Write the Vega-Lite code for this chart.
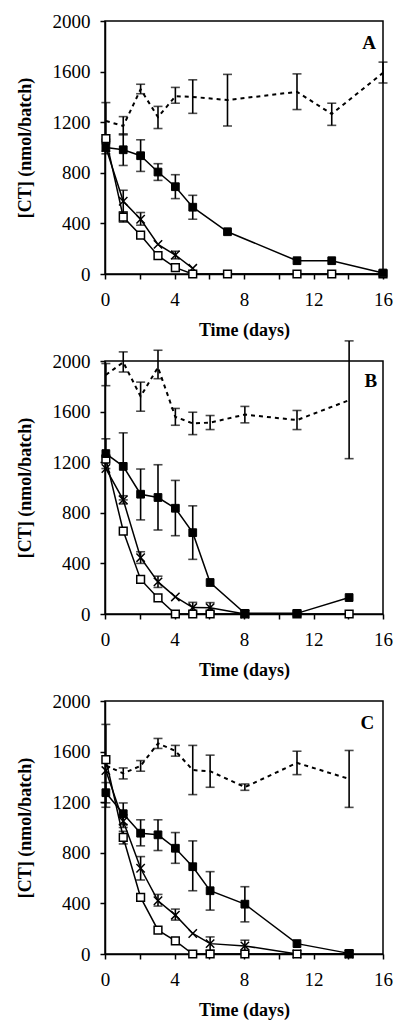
{
"$schema": "https://vega.github.io/schema/vega-lite/v6.json",
"background": "white",
"padding": {"left": 16, "top": 12, "right": 5, "bottom": 5},
"data": {"values": [
{"p":"A","s":"D","d":0.05,"v":1210,"lo":1065,"hi":1355},
{"p":"A","s":"D","d":1.05,"v":1170,"lo":1100,"hi":1244},
{"p":"A","s":"D","d":2.05,"v":1460,"lo":1425,"hi":1500},
{"p":"A","s":"D","d":3.05,"v":1240,"lo":1150,"hi":1325},
{"p":"A","s":"D","d":4.05,"v":1405,"lo":1350,"hi":1475},
{"p":"A","s":"D","d":5.05,"v":1400,"lo":1270,"hi":1535},
{"p":"A","s":"D","d":7.05,"v":1375,"lo":1170,"hi":1578},
{"p":"A","s":"D","d":11.05,"v":1440,"lo":1300,"hi":1582},
{"p":"A","s":"D","d":13.05,"v":1265,"lo":1175,"hi":1350},
{"p":"A","s":"D","d":16,"v":1590,"lo":1510,"hi":1675},
{"p":"A","s":"F","d":0.05,"v":1000,"lo":950,"hi":1050},
{"p":"A","s":"F","d":1.05,"v":982,"lo":858,"hi":1108},
{"p":"A","s":"F","d":2.05,"v":935,"lo":811,"hi":1061},
{"p":"A","s":"F","d":3.05,"v":806,"lo":740,"hi":872},
{"p":"A","s":"F","d":4.05,"v":690,"lo":596,"hi":785},
{"p":"A","s":"F","d":5.05,"v":528,"lo":433,"hi":622},
{"p":"A","s":"F","d":7.05,"v":334},
{"p":"A","s":"F","d":11.05,"v":105},
{"p":"A","s":"F","d":13.05,"v":105},
{"p":"A","s":"F","d":16,"v":8},
{"p":"A","s":"X","d":0.05,"v":1000},
{"p":"A","s":"X","d":1.05,"v":575,"lo":490,"hi":662},
{"p":"A","s":"X","d":2.05,"v":433,"lo":386,"hi":486},
{"p":"A","s":"X","d":3.05,"v":234},
{"p":"A","s":"X","d":4.05,"v":150,"lo":120,"hi":180},
{"p":"A","s":"X","d":5.05,"v":45},
{"p":"A","s":"O","d":0.05,"v":1070},
{"p":"A","s":"O","d":1.05,"v":450,"lo":410,"hi":490},
{"p":"A","s":"O","d":2.05,"v":307},
{"p":"A","s":"O","d":3.05,"v":145},
{"p":"A","s":"O","d":4.05,"v":50},
{"p":"A","s":"O","d":5.05,"v":0},
{"p":"A","s":"O","d":7.05,"v":0},
{"p":"A","s":"O","d":11.05,"v":0},
{"p":"A","s":"O","d":13.05,"v":0},
{"p":"A","s":"O","d":16,"v":0},
{"p":"B","s":"D","d":0.05,"v":1890,"lo":1805,"hi":1980},
{"p":"B","s":"D","d":1.05,"v":1990,"lo":1913,"hi":2072},
{"p":"B","s":"D","d":2.05,"v":1720,"lo":1603,"hi":1833},
{"p":"B","s":"D","d":3.05,"v":1950,"lo":1860,"hi":2085},
{"p":"B","s":"D","d":4.05,"v":1558,"lo":1492,"hi":1625},
{"p":"B","s":"D","d":5.05,"v":1507,"lo":1418,"hi":1595},
{"p":"B","s":"D","d":6.05,"v":1513,"lo":1458,"hi":1569},
{"p":"B","s":"D","d":8.05,"v":1576,"lo":1511,"hi":1641},
{"p":"B","s":"D","d":11.05,"v":1533,"lo":1458,"hi":1609},
{"p":"B","s":"D","d":14.05,"v":1690,"lo":1228,"hi":2159},
{"p":"B","s":"F","d":0.05,"v":1268,"lo":1150,"hi":1385},
{"p":"B","s":"F","d":1.05,"v":1167,"lo":902,"hi":1432},
{"p":"B","s":"F","d":2.05,"v":947,"lo":744,"hi":1146},
{"p":"B","s":"F","d":3.05,"v":921,"lo":664,"hi":1180},
{"p":"B","s":"F","d":4.05,"v":836,"lo":619,"hi":1056},
{"p":"B","s":"F","d":5.05,"v":643,"lo":432,"hi":855},
{"p":"B","s":"F","d":6.05,"v":249},
{"p":"B","s":"F","d":8.05,"v":5},
{"p":"B","s":"F","d":11.05,"v":5},
{"p":"B","s":"F","d":14.05,"v":130},
{"p":"B","s":"X","d":0.05,"v":1150},
{"p":"B","s":"X","d":1.05,"v":902,"lo":870,"hi":935},
{"p":"B","s":"X","d":2.05,"v":445,"lo":400,"hi":492},
{"p":"B","s":"X","d":3.05,"v":254,"lo":210,"hi":299},
{"p":"B","s":"X","d":4.05,"v":135},
{"p":"B","s":"X","d":5.05,"v":51,"lo":10,"hi":92},
{"p":"B","s":"X","d":6.05,"v":50,"lo":10,"hi":90},
{"p":"B","s":"X","d":8.05,"v":0},
{"p":"B","s":"O","d":0.05,"v":1225},
{"p":"B","s":"O","d":1.05,"v":656},
{"p":"B","s":"O","d":2.05,"v":273},
{"p":"B","s":"O","d":3.05,"v":127},
{"p":"B","s":"O","d":4.05,"v":0},
{"p":"B","s":"O","d":5.05,"v":0},
{"p":"B","s":"O","d":6.05,"v":0},
{"p":"B","s":"O","d":8.05,"v":0},
{"p":"B","s":"O","d":11.05,"v":0},
{"p":"B","s":"O","d":14.05,"v":0},
{"p":"C","s":"D","d":0.05,"v":1490,"lo":1160,"hi":1815},
{"p":"C","s":"D","d":1.05,"v":1428,"lo":1384,"hi":1471},
{"p":"C","s":"D","d":2.05,"v":1487,"lo":1445,"hi":1529},
{"p":"C","s":"D","d":3.05,"v":1665,"lo":1625,"hi":1704},
{"p":"C","s":"D","d":4.05,"v":1606,"lo":1564,"hi":1649},
{"p":"C","s":"D","d":5.05,"v":1454,"lo":1260,"hi":1649},
{"p":"C","s":"D","d":6.05,"v":1445,"lo":1318,"hi":1572},
{"p":"C","s":"D","d":8.05,"v":1319,"lo":1294,"hi":1344},
{"p":"C","s":"D","d":11.05,"v":1511,"lo":1418,"hi":1603},
{"p":"C","s":"D","d":14.05,"v":1384,"lo":1159,"hi":1609},
{"p":"C","s":"F","d":0.05,"v":1275,"lo":1195,"hi":1355},
{"p":"C","s":"F","d":1.05,"v":1109,"lo":1024,"hi":1194},
{"p":"C","s":"F","d":2.05,"v":955,"lo":855,"hi":1061},
{"p":"C","s":"F","d":3.05,"v":942,"lo":818,"hi":1061},
{"p":"C","s":"F","d":4.05,"v":836,"lo":717,"hi":960},
{"p":"C","s":"F","d":5.05,"v":690,"lo":500,"hi":894},
{"p":"C","s":"F","d":6.05,"v":500,"lo":347,"hi":651},
{"p":"C","s":"F","d":8.05,"v":394,"lo":254,"hi":532},
{"p":"C","s":"F","d":11.05,"v":82},
{"p":"C","s":"F","d":14.05,"v":5},
{"p":"C","s":"X","d":0.05,"v":1450},
{"p":"C","s":"X","d":1.05,"v":1050,"lo":1000,"hi":1100},
{"p":"C","s":"X","d":2.05,"v":678,"lo":585,"hi":770},
{"p":"C","s":"X","d":3.05,"v":421,"lo":379,"hi":471},
{"p":"C","s":"X","d":4.05,"v":307,"lo":268,"hi":355},
{"p":"C","s":"X","d":5.05,"v":162},
{"p":"C","s":"X","d":6.05,"v":82,"lo":30,"hi":135},
{"p":"C","s":"X","d":8.05,"v":64,"lo":20,"hi":109},
{"p":"C","s":"X","d":11.05,"v":0},
{"p":"C","s":"X","d":14.05,"v":0},
{"p":"C","s":"O","d":0.05,"v":1537},
{"p":"C","s":"O","d":1.05,"v":921,"lo":870,"hi":970},
{"p":"C","s":"O","d":2.05,"v":447},
{"p":"C","s":"O","d":3.05,"v":188},
{"p":"C","s":"O","d":4.05,"v":103},
{"p":"C","s":"O","d":5.05,"v":0},
{"p":"C","s":"O","d":6.05,"v":0},
{"p":"C","s":"O","d":8.05,"v":0},
{"p":"C","s":"O","d":11.05,"v":0},
{"p":"C","s":"O","d":14.05,"v":0},
{"p":"A","s":"L","d":15.2,"v":1830,"t":"A"},
{"p":"B","s":"L","d":15.3,"v":1840,"t":"B"},
{"p":"C","s":"L","d":15.1,"v":1830,"t":"C"}
]},
"facet": {"row": {"field": "p", "type": "nominal", "header": {"labels": false, "title": null}, "title": null}},
"spacing": {"row": 87},
"bounds": "flush",
"resolve": {"axis": {"x": "independent"}},
"spec": {
"width": 278,
"height": 253,
"encoding": {
"x": {"field": "d", "type": "quantitative", "scale": {"domain": [0, 16], "nice": false, "zero": false},
"axis": {"title": "Time (days)", "values": [0,2,4,6,8,10,12,14,16], "format": "d", "labelExpr": "datum.value % 4 == 0 ? datum.label : ''", "labelFlush": false, "labelOverlap": false, "labelPadding": 11, "titlePadding": 12}},
"y": {"field": "v", "type": "quantitative", "scale": {"domain": [0, 2000], "nice": false},
"axis": {"title": "[CT] (nmol/batch)", "values": [0,400,800,1200,1600,2000], "format": "d", "labelOverlap": false, "labelPadding": 10, "titlePadding": 18}}
},
"layer": [
{"transform": [{"filter": "datum.s == 'D'"}], "mark": {"type": "line", "color": "black", "strokeWidth": 2, "strokeDash": [4, 4]}},
{"transform": [{"filter": "isValid(datum.lo)"}], "mark": {"type": "rule", "color": "black", "strokeWidth": 1.6}, "encoding": {"y": {"field": "lo", "type": "quantitative"}, "y2": {"field": "hi"}}},
{"transform": [{"filter": "isValid(datum.lo)"}], "mark": {"type": "tick", "orient": "horizontal", "color": "black", "size": 9, "thickness": 1.6}, "encoding": {"y": {"field": "lo", "type": "quantitative"}}},
{"transform": [{"filter": "isValid(datum.hi)"}], "mark": {"type": "tick", "orient": "horizontal", "color": "black", "size": 9, "thickness": 1.6}, "encoding": {"y": {"field": "hi", "type": "quantitative"}}},
{"transform": [{"filter": "datum.s == 'F' || datum.s == 'X' || datum.s == 'O'"}], "mark": {"type": "line", "color": "black", "strokeWidth": 1.5}, "encoding": {"detail": {"field": "s"}}},
{"transform": [{"filter": "datum.s == 'X'"}], "mark": {"type": "point", "shape": "M-1,-1L1,1M-1,1L1,-1", "filled": false, "color": "black", "strokeWidth": 1.5, "size": 70, "opacity": 1}},
{"transform": [{"filter": "datum.s == 'O'"}], "mark": {"type": "square", "fill": "white", "stroke": "black", "strokeWidth": 1.5, "size": 60, "opacity": 1}},
{"transform": [{"filter": "datum.s == 'F'"}], "mark": {"type": "square", "fill": "black", "stroke": "black", "strokeWidth": 1, "size": 60, "opacity": 1}},
{"transform": [{"filter": "datum.s == 'L'"}], "mark": {"type": "text", "font": "Liberation Serif", "fontWeight": "bold", "fontSize": 19, "color": "black", "align": "center", "baseline": "middle"}, "encoding": {"text": {"field": "t"}}}
]
},
"config": {
"view": {"stroke": "black", "strokeWidth": 1.5},
"axis": {"grid": false, "labelFont": "Liberation Serif", "labelFontSize": 19, "labelColor": "black", "titleFont": "Liberation Serif", "titleFontSize": 18, "titleFontWeight": "bold", "titleColor": "black", "domainColor": "black", "domainWidth": 1.5, "tickColor": "black", "tickWidth": 1.5, "tickSize": 5}
}
}
